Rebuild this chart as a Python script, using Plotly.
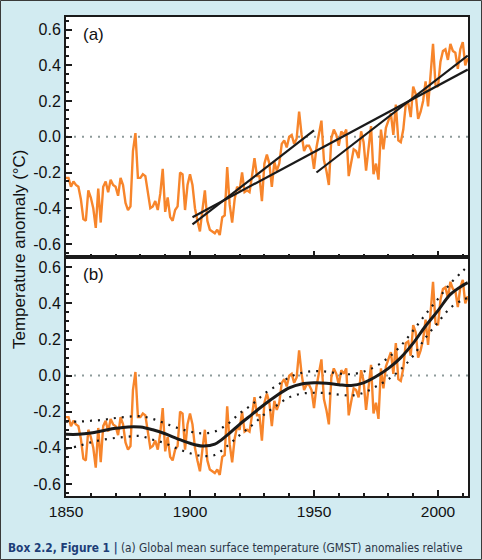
import plotly.graph_objects as go
from plotly.subplots import make_subplots

# ---------------- data ----------------
years = list(range(1850, 2013))
gmst = [
    -0.23, -0.23, -0.28, -0.25, -0.27, -0.28, -0.35, -0.46, -0.47, -0.30,   # 1850-1859
    -0.34, -0.40, -0.51, -0.29, -0.48, -0.28, -0.25, -0.31, -0.24, -0.27,   # 1860-1869
    -0.28, -0.33, -0.23, -0.27, -0.37, -0.41, -0.39, -0.08, 0.02, -0.23,    # 1870-1879
    -0.23, -0.21, -0.22, -0.30, -0.40, -0.39, -0.36, -0.41, -0.32, -0.18,   # 1880-1889
    -0.42, -0.34, -0.45, -0.47, -0.41, -0.39, -0.20, -0.21, -0.41, -0.27,   # 1890-1899
    -0.21, -0.27, -0.40, -0.47, -0.53, -0.41, -0.30, -0.47, -0.52, -0.53,   # 1900-1909
    -0.54, -0.52, -0.55, -0.45, -0.44, -0.17, -0.38, -0.48, -0.35, -0.28,   # 1910-1919
    -0.30, -0.20, -0.31, -0.30, -0.31, -0.22, -0.12, -0.22, -0.22, -0.36,   # 1920-1929
    -0.15, -0.10, -0.15, -0.28, -0.14, -0.19, -0.15, -0.04, -0.02, -0.06,   # 1930-1939
    0.00, 0.01, -0.04, -0.01, 0.14, 0.01, -0.08, -0.05, -0.05, -0.08,       # 1940-1949
    -0.18, -0.06, 0.02, 0.09, -0.13, -0.19, -0.27, -0.01, 0.04, 0.01,       # 1950-1959
    -0.05, 0.03, 0.01, 0.04, -0.22, -0.14, -0.07, -0.08, -0.12, 0.03,       # 1960-1969
    -0.03, -0.19, -0.07, 0.06, -0.21, -0.15, -0.24, 0.04, -0.07, 0.05,      # 1970-1979
    0.09, 0.13, 0.01, 0.18, -0.02, -0.03, 0.04, 0.18, 0.19, 0.11,           # 1980-1989
    0.28, 0.24, 0.10, 0.14, 0.20, 0.31, 0.17, 0.37, 0.52, 0.29,             # 1990-1999
    0.28, 0.42, 0.48, 0.49, 0.43, 0.52, 0.48, 0.47, 0.38, 0.49,             # 2000-2009
    0.53, 0.40, 0.44,                                                       # 2010-2012
]

# linear trends (panel a): start/end years and values
trend_1901_1950_x = [1901, 1950]
trend_1901_1950_y = [-0.49, 0.035]
trend_1901_2012_x = [1901, 2012]
trend_1901_2012_y = [-0.45, 0.376]
trend_1951_2012_x = [1951, 2012]
trend_1951_2012_y = [-0.20, 0.454]

# smooth fit and its uncertainty (panel b)
smooth_years = [1850, 1855, 1860, 1865, 1870, 1875, 1880, 1885, 1890, 1895,
                1900, 1905, 1910, 1915, 1920, 1925, 1930, 1935, 1940, 1945,
                1950, 1955, 1960, 1965, 1970, 1975, 1980, 1985, 1990, 1995,
                2000, 2005, 2010, 2012]
smooth = [-0.325, -0.325, -0.318, -0.305, -0.292, -0.284, -0.285, -0.300, -0.322, -0.350,
          -0.375, -0.390, -0.380, -0.330, -0.270, -0.215, -0.160, -0.110, -0.068, -0.046,
          -0.040, -0.042, -0.050, -0.055, -0.040, -0.005, 0.040, 0.100, 0.180, 0.275,
          0.360, 0.450, 0.500, 0.515]
smooth_upper = [-0.255, -0.255, -0.250, -0.245, -0.235, -0.228, -0.225, -0.240, -0.265, -0.290,
                -0.310, -0.320, -0.310, -0.270, -0.210, -0.160, -0.100, -0.055, -0.010, 0.015,
                0.025, 0.022, 0.012, 0.008, 0.022, 0.052, 0.100, 0.165, 0.250, 0.340,
                0.425, 0.510, 0.580, 0.605]
smooth_lower = [-0.405, -0.390, -0.370, -0.355, -0.345, -0.338, -0.335, -0.355, -0.375, -0.405,
                -0.430, -0.445, -0.440, -0.390, -0.330, -0.275, -0.215, -0.165, -0.120, -0.100,
                -0.095, -0.097, -0.105, -0.110, -0.095, -0.060, -0.020, 0.035, 0.110, 0.210,
                0.295, 0.375, 0.420, 0.430]

x_tickvals = [1850, 1900, 1950, 2000]
x_ticktext = ["1850", "1900", "1950", "2000"]
y_tickvals = [-0.6, -0.4, -0.2, 0.0, 0.2, 0.4, 0.6]
y_ticktext = ["-0.6", "-0.4", "-0.2", "0.0", "0.2", "0.4", "0.6"]

# ---------------- style ----------------
ORANGE = "#f7852b"
BLACK = "#1a1a1a"
BG = "#d2ebf1"
FONT = "Liberation Sans, Arial, sans-serif"

W, H = 482, 560
ML, MR, MT, MB = 66, 14, 17, 64
PW, PH = W - ML - MR, H - MT - MB

fig = make_subplots(rows=2, cols=1, shared_xaxes=False, vertical_spacing=0.0)

# panel (a)
fig.add_trace(go.Scatter(x=years, y=gmst, mode="lines",
                         line=dict(color=ORANGE, width=2.4), showlegend=False), row=1, col=1)
for tx, ty in [(trend_1901_1950_x, trend_1901_1950_y),
               (trend_1901_2012_x, trend_1901_2012_y),
               (trend_1951_2012_x, trend_1951_2012_y)]:
    fig.add_trace(go.Scatter(x=tx, y=ty, mode="lines",
                             line=dict(color=BLACK, width=2.2), showlegend=False), row=1, col=1)

# panel (b)
fig.add_trace(go.Scatter(x=years, y=gmst, mode="lines",
                         line=dict(color=ORANGE, width=2.4), showlegend=False), row=2, col=1)
for yy in (smooth_upper, smooth_lower):
    fig.add_trace(go.Scatter(x=smooth_years, y=yy, mode="lines", line_shape="spline",
                             line=dict(color=BLACK, width=2.2, dash="2px,6px"),
                             showlegend=False), row=2, col=1)
fig.add_trace(go.Scatter(x=smooth_years, y=smooth, mode="lines", line_shape="spline",
                         line=dict(color=BLACK, width=3), showlegend=False), row=2, col=1)

# zero reference lines
for yref, xref in [("y", "x domain"), ("y2", "x2 domain")]:
    fig.add_shape(type="line", xref=xref, yref=yref, x0=0, x1=1, y0=0, y1=0,
                  line=dict(color="#8e9b9b", width=2, dash="2px,6px"), layer="below")

xaxis_common = dict(range=[1850, 2012.1], showgrid=False, zeroline=False,
                    showline=True, linecolor=BLACK, linewidth=2, mirror=True,
                    ticks="inside", ticklen=6, tickwidth=1.5, tickcolor=BLACK,
                    tickvals=x_tickvals, ticktext=x_ticktext,
                    minor=dict(dtick=10, tick0=1850, ticks="inside", ticklen=3,
                               tickwidth=1.5, tickcolor=BLACK, showgrid=False),
                    tickfont=dict(family=FONT, size=15.5, color="#111"))
yaxis_common = dict(showgrid=False, zeroline=False,
                    showline=True, linecolor=BLACK, linewidth=2, mirror=True,
                    ticks="inside", ticklen=6, tickwidth=1.5, tickcolor=BLACK,
                    tickvals=y_tickvals, ticktext=y_ticktext,
                    minor=dict(dtick=0.05, tick0=0, ticks="inside", ticklen=3,
                               tickwidth=1.5, tickcolor=BLACK, showgrid=False),
                    tickfont=dict(family=FONT, size=16, color="#111"))

fig.update_xaxes(**xaxis_common)
fig.update_yaxes(**yaxis_common)
fig.update_xaxes(showticklabels=False, row=1, col=1)
fig.update_yaxes(range=[-0.67, 0.67], domain=[0.5, 1.0], row=1, col=1)
fig.update_yaxes(range=[-0.667, 0.66], domain=[0.0, 0.5], row=2, col=1)

annotations = [
    dict(text="(a)", xref="x domain", yref="y domain", x=0.037, y=0.925,
         xanchor="left", yanchor="middle", showarrow=False,
         font=dict(family=FONT, size=17, color="#111")),
    dict(text="(b)", xref="x2 domain", yref="y2 domain", x=0.037, y=0.923,
         xanchor="left", yanchor="middle", showarrow=False,
         font=dict(family=FONT, size=17, color="#111")),
    dict(text="Temperature anomaly (\u00b0C)", xref="paper", yref="paper",
         x=(19 - ML) / PW, y=(H - MB - 249) / PH, textangle=-90,
         xanchor="center", yanchor="middle", showarrow=False,
         font=dict(family=FONT, size=17, color="#111")),
    dict(text="<b>Box 2.2, Figure 1 |</b> <span style='color:#2b3546'>(a) Global mean surface temperature (GMST) anomalies relative</span>",
         xref="paper", yref="paper", x=(6 - ML) / PW, y=(H - MB - 548) / PH,
         xanchor="left", yanchor="middle", showarrow=False,
         font=dict(family="Liberation Sans Narrow, DejaVu Sans Condensed, Arial Narrow, sans-serif",
                   size=11.8, color="#1d3e78")),
]

fig.update_layout(
    width=W, height=H,
    margin=dict(l=ML, r=MR, t=MT, b=MB, pad=0),
    paper_bgcolor=BG, plot_bgcolor="white",
    annotations=annotations,
    showlegend=False,
)

# outer frame of the whole picture
fig.add_shape(type="rect", xref="paper", yref="paper",
              x0=(0.5 - ML) / PW, x1=(W - 0.5 - ML) / PW,
              y0=(H - MB - (H - 0.5)) / PH, y1=(H - MB - 0.5) / PH,
              line=dict(color="#3a3a3a", width=1), fillcolor="rgba(0,0,0,0)", layer="above")

fig.write_html("out.html", config={"displayModeBar": False},
               post_script="document.body.style.margin='0';document.body.style.padding='0';")
